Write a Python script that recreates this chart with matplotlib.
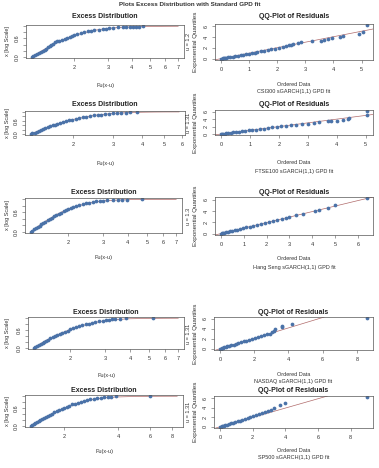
import numpy as np
import matplotlib
matplotlib.use("Agg")
import matplotlib.pyplot as plt
from matplotlib.ticker import FixedLocator, NullLocator, FixedFormatter

plt.rcParams['font.family'] = ['Liberation Sans Narrow', 'Liberation Sans', 'DejaVu Sans']

W, H = 379, 468
fig = plt.figure(figsize=(W / 100, H / 100), dpi=100)

suptitle = "Plots Excess Distribution with Standard GPD fit"
names = ["CSI300", "FTSE100", "Hang Seng", "NASDAQ", "SP500"]
thresholds = ["1.2", "1.31", "1.3", "1.31", "1.31"]

# ---- Excess distribution points (x, empirical F) ----
csi_ex_x = [1.20, 1.22, 1.25, 1.28, 1.31, 1.34, 1.37, 1.40, 1.43, 1.46, 1.49, 1.52, 1.55, 1.58, 1.62,
            1.67, 1.72, 1.78, 1.84, 1.90, 1.95, 2.00, 2.08, 2.16, 2.25, 2.35, 2.45, 2.55, 2.68, 2.82,
            2.95, 3.05, 3.20, 3.40, 3.60, 3.75, 3.90, 4.05, 4.20, 4.35, 4.60]
csi_ex_y = [0.00, 0.02, 0.05, 0.08, 0.11, 0.15, 0.19, 0.23, 0.27, 0.31, 0.35, 0.39, 0.43, 0.47, 0.50,
            0.53, 0.56, 0.59, 0.62, 0.65, 0.69, 0.72, 0.75, 0.78, 0.80, 0.83, 0.85, 0.87, 0.89, 0.91,
            0.92, 0.94, 0.95, 0.96, 0.965, 0.97, 0.975, 0.98, 0.985, 0.99, 0.995]
csi_fit_x = [1.2, 1.4, 1.6, 1.8, 2.0, 2.5, 3.0, 3.5, 4.0, 5.0, 6.0, 7.0]
csi_fit_y = [0.0, 0.25, 0.45, 0.60, 0.70, 0.86, 0.93, 0.965, 0.98, 0.993, 0.997, 0.999]

ftse_ex_x = [1.31, 1.33, 1.36, 1.39, 1.42, 1.45, 1.48, 1.51, 1.55, 1.59, 1.63, 1.67, 1.71, 1.76, 1.81,
             1.86, 1.92, 1.98, 2.05, 2.12, 2.20, 2.28, 2.37, 2.46, 2.56, 2.66, 2.76, 2.88, 3.00, 3.12,
             3.25, 3.40, 3.55, 3.80]
ftse_ex_y = [0.00, 0.03, 0.07, 0.11, 0.15, 0.19, 0.23, 0.27, 0.31, 0.35, 0.39, 0.43, 0.47, 0.51, 0.55,
             0.58, 0.62, 0.65, 0.69, 0.72, 0.75, 0.78, 0.81, 0.84, 0.86, 0.88, 0.90, 0.92, 0.935, 0.95,
             0.96, 0.97, 0.98, 0.99]
ftse_fit_x = [1.31, 1.5, 1.75, 2.0, 2.5, 3.0, 3.5, 4.0, 4.5, 5.0, 5.8]
ftse_fit_y = [0.0, 0.26, 0.50, 0.66, 0.85, 0.935, 0.97, 0.985, 0.993, 0.997, 0.999]

hsi_ex_x = [1.30, 1.32, 1.35, 1.38, 1.41, 1.44, 1.47, 1.50, 1.54, 1.58, 1.62, 1.66, 1.70, 1.75, 1.80,
            1.85, 1.90, 1.95, 2.00, 2.06, 2.13, 2.20, 2.28, 2.37, 2.46, 2.56, 2.66, 2.78, 2.90, 3.00,
            3.15, 3.35, 3.55, 3.75, 3.95, 4.70]
hsi_ex_y = [0.00, 0.03, 0.07, 0.11, 0.15, 0.19, 0.23, 0.27, 0.31, 0.35, 0.39, 0.43, 0.47, 0.51, 0.55,
            0.59, 0.63, 0.67, 0.70, 0.74, 0.77, 0.80, 0.83, 0.86, 0.88, 0.90, 0.92, 0.935, 0.95, 0.96,
            0.97, 0.975, 0.98, 0.985, 0.99, 0.995]
hsi_fit_x = [1.3, 1.5, 1.75, 2.0, 2.5, 3.0, 3.5, 4.0, 5.0, 6.0, 7.0]
hsi_fit_y = [0.0, 0.28, 0.53, 0.70, 0.88, 0.95, 0.975, 0.988, 0.996, 0.998, 0.999]

nsdq_ex_x = [1.31, 1.33, 1.36, 1.39, 1.42, 1.45, 1.48, 1.51, 1.55, 1.59, 1.63, 1.67, 1.72, 1.77, 1.82,
             1.88, 1.94, 2.00, 2.07, 2.14, 2.22, 2.30, 2.39, 2.48, 2.58, 2.68, 2.80, 2.92, 3.02, 3.12,
             3.25, 3.35, 3.55, 3.80, 5.20]
nsdq_ex_y = [0.00, 0.03, 0.06, 0.10, 0.13, 0.17, 0.20, 0.24, 0.28, 0.32, 0.35, 0.39, 0.43, 0.47, 0.51,
             0.55, 0.58, 0.62, 0.66, 0.69, 0.73, 0.76, 0.79, 0.82, 0.85, 0.87, 0.90, 0.92, 0.94, 0.95,
             0.96, 0.97, 0.98, 0.99, 0.995]
nsdq_fit_x = [1.31, 1.5, 1.75, 2.0, 2.5, 3.0, 3.5, 4.0, 5.0, 6.0, 7.0]
nsdq_fit_y = [0.0, 0.24, 0.46, 0.62, 0.82, 0.92, 0.96, 0.98, 0.993, 0.997, 0.999]

sp_ex_x = [1.31, 1.33, 1.36, 1.39, 1.42, 1.45, 1.48, 1.51, 1.55, 1.59, 1.63, 1.67, 1.72, 1.77, 1.82,
           1.88, 1.94, 2.00, 2.07, 2.14, 2.22, 2.30, 2.39, 2.48, 2.58, 2.68, 2.80, 2.92, 3.05, 3.20,
           3.35, 3.50, 3.65, 3.90, 6.00]
sp_ex_y = [0.00, 0.03, 0.06, 0.09, 0.12, 0.16, 0.19, 0.22, 0.26, 0.30, 0.33, 0.37, 0.41, 0.45, 0.49,
           0.53, 0.57, 0.61, 0.65, 0.68, 0.72, 0.75, 0.78, 0.81, 0.84, 0.87, 0.89, 0.91, 0.93, 0.95,
           0.965, 0.975, 0.985, 0.99, 0.995]
sp_fit_x = [1.31, 1.5, 1.75, 2.0, 2.5, 3.0, 3.5, 4.0, 5.0, 6.0, 7.0, 8.5]
sp_fit_y = [0.0, 0.22, 0.43, 0.59, 0.80, 0.91, 0.955, 0.975, 0.99, 0.996, 0.998, 0.999]

# ---- QQ plot of residuals: ordered data vs exponential quantiles ----
csi_qq_x = [0.00, 0.03, 0.06, 0.10, 0.15, 0.20, 0.27, 0.34, 0.42, 0.50, 0.60, 0.70, 0.80, 0.90, 1.00,
            1.10, 1.20, 1.30, 1.42, 1.55, 1.68, 1.80, 1.92, 2.05, 2.20, 2.32, 2.42, 2.48, 2.55, 2.75,
            2.85, 3.25, 3.55, 3.65, 3.80, 3.95, 4.25, 4.35, 4.90, 5.05, 5.20]
csi_qq_y = [0.00, 0.03, 0.07, 0.11, 0.15, 0.20, 0.26, 0.32, 0.39, 0.47, 0.55, 0.64, 0.73, 0.83, 0.93,
            1.03, 1.13, 1.24, 1.35, 1.47, 1.59, 1.72, 1.85, 1.98, 2.12, 2.27, 2.45, 2.62, 2.80, 2.95,
            3.10, 3.20, 3.35, 3.50, 3.65, 3.80, 4.00, 4.25, 4.55, 5.00, 6.20]
ftse_qq_x = [0.00, 0.04, 0.08, 0.13, 0.19, 0.26, 0.34, 0.43, 0.53, 0.63, 0.74, 0.85, 0.97, 1.09, 1.22,
             1.35, 1.49, 1.63, 1.78, 1.93, 2.08, 2.25, 2.42, 2.60, 2.80, 3.00, 3.20, 3.40, 3.70, 3.80,
             4.00, 4.20, 4.40, 4.42, 5.05, 5.05]
ftse_qq_y = [0.00, 0.04, 0.08, 0.13, 0.19, 0.26, 0.34, 0.43, 0.53, 0.63, 0.74, 0.85, 0.97, 1.09, 1.22,
             1.35, 1.49, 1.63, 1.78, 1.93, 2.08, 2.22, 2.36, 2.50, 2.62, 2.80, 3.00, 3.20, 3.40, 3.50,
             3.60, 3.80, 4.10, 4.40, 5.00, 6.20]
hsi_qq_x = [0.00, 0.04, 0.09, 0.15, 0.22, 0.30, 0.39, 0.49, 0.60, 0.72, 0.85, 0.98, 1.12, 1.27, 1.42,
            1.58, 1.75, 1.92, 2.10, 2.28, 2.47, 2.66, 2.85, 3.00, 3.30, 3.60, 4.10, 4.30, 4.70, 5.00,
            6.40]
hsi_qq_y = [0.00, 0.04, 0.09, 0.15, 0.22, 0.30, 0.39, 0.48, 0.59, 0.70, 0.83, 0.96, 1.09, 1.23, 1.38,
            1.53, 1.69, 1.86, 2.03, 2.20, 2.39, 2.58, 2.77, 2.95, 3.20, 3.50, 4.00, 4.20, 4.50, 5.00,
            6.20]
nsdq_qq_x = [0.00, 0.05, 0.10, 0.17, 0.25, 0.34, 0.44, 0.55, 0.67, 0.80, 0.94, 1.08, 1.23, 1.38, 1.54,
             1.70, 1.87, 2.04, 2.21, 2.39, 2.57, 2.75, 2.92, 3.05, 3.15, 3.20, 3.60, 3.65, 4.20, 8.60]
nsdq_qq_y = [0.00, 0.05, 0.10, 0.17, 0.26, 0.35, 0.46, 0.58, 0.71, 0.85, 1.00, 1.15, 1.31, 1.48, 1.65,
             1.83, 2.02, 2.21, 2.40, 2.60, 2.80, 2.95, 3.05, 3.30, 3.60, 4.00, 4.30, 4.50, 5.00, 6.10]
sp_qq_x = [0.00, 0.05, 0.10, 0.17, 0.25, 0.34, 0.44, 0.55, 0.67, 0.80, 0.94, 1.08, 1.23, 1.38, 1.54,
           1.70, 1.87, 2.04, 2.21, 2.39, 2.57, 2.75, 2.92, 3.10, 3.30, 3.70, 4.00, 9.00]
sp_qq_y = [0.00, 0.05, 0.10, 0.17, 0.26, 0.35, 0.46, 0.58, 0.71, 0.85, 1.00, 1.15, 1.31, 1.48, 1.65,
           1.83, 2.02, 2.21, 2.40, 2.60, 2.80, 3.00, 3.25, 3.55, 3.90, 4.50, 5.00, 6.20]
qq_slopes = [1.02, 1.0, 0.97, 1.04, 0.98]

left_xticks = [[2, 3, 4, 5, 6, 7], [2, 3, 4, 5, 6], [2, 3, 4, 5, 6, 7], [2, 3, 4, 5, 6, 7, 8], [2, 4, 6, 8]]
qq_xticks = [[0, 1, 2, 3, 4, 5], [0, 1, 2, 3, 4, 5], [0, 1, 2, 3, 4, 5, 6], [0, 2, 4, 6, 8], [0, 2, 4, 6, 8]]
qq_yticks = [0, 2, 4, 6]

ex_x = [csi_ex_x, ftse_ex_x, hsi_ex_x, nsdq_ex_x, sp_ex_x]
ex_y = [csi_ex_y, ftse_ex_y, hsi_ex_y, nsdq_ex_y, sp_ex_y]
fit_x = [csi_fit_x, ftse_fit_x, hsi_fit_x, nsdq_fit_x, sp_fit_x]
fit_y = [csi_fit_y, ftse_fit_y, hsi_fit_y, nsdq_fit_y, sp_fit_y]
qq_x = [csi_qq_x, ftse_qq_x, hsi_qq_x, nsdq_qq_x, sp_qq_x]
qq_y = [csi_qq_y, ftse_qq_y, hsi_qq_y, nsdq_qq_y, sp_qq_y]

# ---- layout (pixels) ----
left_boxes = [(26, 25, 184, 58), (25, 111, 185, 135), (25, 198, 182, 233), (28, 317, 184, 349), (25, 395, 183, 427)]
right_boxes = [(215, 24, 373, 60), (215, 110, 373, 135), (215, 197, 373, 235), (214, 317, 373, 350), (214, 396, 373, 428)]
title_y = [17, 105, 192, 312, 390]
xlab_y = [85, 163, 258, 375, 451]
sub_y = [92, 172, 267, 381, 458]

PT = "#4a72a8"
LINE = "#b06a6a"
TXT = "#333333"


def px_axes(box):
    x0, yt, x1, yb = box
    return fig.add_axes([x0 / W, 1 - yb / H, (x1 - x0) / W, (yb - yt) / H])


def style(ax):
    for s in ax.spines.values():
        s.set_linewidth(0.5)
        s.set_color("#555555")
    ax.tick_params(length=2.2, width=0.4, labelsize=4, colors="#555555", labelcolor=TXT, pad=2.5)
    ax.xaxis.set_minor_locator(NullLocator())
    ax.yaxis.set_minor_locator(NullLocator())


def rpad(lo, hi):
    r = hi - lo
    return lo - 0.04 * r, hi + 0.04 * r


fig.text(190 / W, 1 - 4 / H, suptitle, ha="center", va="center", fontsize=4.5, fontweight="bold", color=TXT)

for i in range(5):
    # Excess distribution
    ax = px_axes(left_boxes[i])
    style(ax)
    ax.set_xscale("log")
    ax.plot(fit_x[i], fit_y[i], color=LINE, lw=0.5, zorder=1)
    ax.plot(ex_x[i], ex_y[i], "o", color=PT, ms=2.7, mew=0, zorder=2)
    lo, hi = rpad(np.log(min(fit_x[i])), np.log(max(fit_x[i])))
    ax.set_xlim(np.exp(lo), np.exp(hi))
    ax.set_ylim(-0.04, 1.04)
    ax.xaxis.set_major_locator(FixedLocator(left_xticks[i]))
    ax.xaxis.set_major_formatter(FixedFormatter([str(t) for t in left_xticks[i]]))
    ax.xaxis.set_minor_locator(NullLocator())
    ax.set_yticks([0.0, 0.2, 0.4, 0.6, 0.8, 1.0])
    ax.set_yticklabels(["0.0", "", "", "0.6", "", ""], rotation=90, va="center")
    x0, yt, x1, yb = left_boxes[i]
    fig.text((x0 + x1) / 2 / W, 1 - title_y[i] / H, "Excess Distribution", ha="center", va="center",
             fontsize=5, fontweight="bold", color="#222222")
    fig.text((x0 + x1) / 2 / W, 1 - xlab_y[i] / H, "Fu(x-u)", ha="center", va="center", fontsize=4, color=TXT)
    fig.text(7 / W, 1 - (yt + yb) / 2 / H, "x [log Scale]", ha="center", va="center", rotation=90,
             fontsize=4, color=TXT)

    # QQ plot
    ax2 = px_axes(right_boxes[i])
    style(ax2)
    ax2.axline((0, 0), slope=qq_slopes[i], color=LINE, lw=0.5, zorder=1)
    ax2.plot(qq_x[i], qq_y[i], "o", color=PT, ms=2.7, mew=0, zorder=2)
    ax2.set_xlim(*rpad(min(qq_x[i]), max(qq_x[i])))
    ax2.set_ylim(*rpad(min(qq_y[i]), max(qq_y[i])))
    ax2.set_xticks(qq_xticks[i])
    ax2.set_yticks(qq_yticks)
    ax2.set_yticklabels([str(t) for t in qq_yticks], rotation=90, va="center")
    rx0, ryt, rx1, ryb = right_boxes[i]
    fig.text((rx0 + rx1) / 2 / W, 1 - title_y[i] / H, "QQ-Plot of Residuals", ha="center", va="center",
             fontsize=5, fontweight="bold", color="#222222")
    fig.text((rx0 + rx1) / 2 / W, 1 - xlab_y[i] / H, "Ordered Data", ha="center", va="center",
             fontsize=4, color=TXT)
    fig.text((rx0 + rx1) / 2 / W, 1 - sub_y[i] / H, f"{names[i]} sGARCH(1,1) GPD fit", ha="center",
             va="center", fontsize=4, color=TXT)
    fig.text(188 / W, 1 - (ryt + ryb) / 2 / H, f"u = {thresholds[i]}", ha="center", va="center",
             rotation=90, fontsize=4, color=TXT)
    fig.text(195 / W, 1 - (ryt + ryb) / 2 / H, "Exponential Quantiles", ha="center", va="center",
             rotation=90, fontsize=4.5, color=TXT)

fig.savefig("out.png", dpi=100)
